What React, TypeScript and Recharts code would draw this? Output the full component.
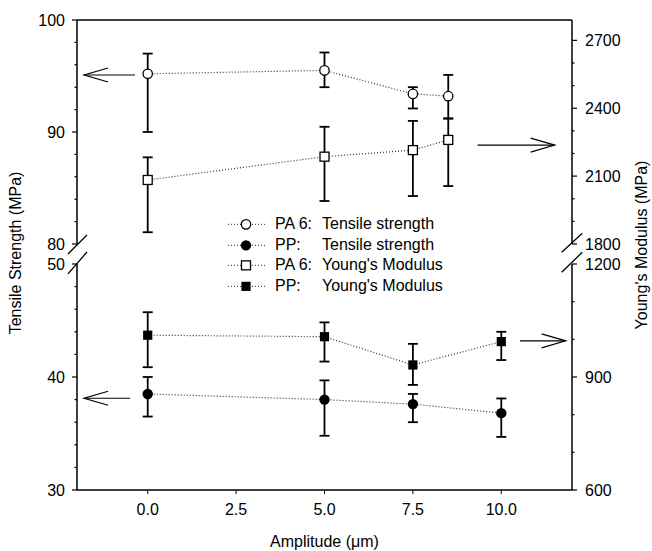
import React from "react";
import {
  ComposedChart,
  ErrorBar,
  Label,
  Legend,
  Line,
  ReferenceLine,
  XAxis,
  YAxis,
} from "recharts";

const FONT = '"Liberation Sans", Arial, Helvetica, sans-serif';

// amplitude (µm)
const pa6Amp = [0, 5, 7.5, 8.5];
const ppAmp = [0, 5, 7.5, 10];
const ampTicks = [0, 2.5, 5, 7.5, 10];

// PA 6 tensile strength (MPa): mean, lower and upper end of the error bar
const pa6Tensile = [95.2, 95.5, 93.4, 93.2];
const pa6TensileLow = [90.0, 94.0, 92.1, 91.2];
const pa6TensileHigh = [97.0, 97.1, 94.0, 95.1];

// PA 6 Young's modulus (MPa)
const pa6Modulus = [2083, 2186, 2215, 2260];
const pa6ModulusLow = [1852, 1990, 2012, 2056];
const pa6ModulusHigh = [2183, 2318, 2344, 2355];

// PP tensile strength (MPa)
const ppTensile = [38.5, 38.0, 37.6, 36.8];
const ppTensileLow = [36.5, 34.8, 36.0, 34.7];
const ppTensileHigh = [40.0, 39.7, 38.5, 38.1];

// PP Young's modulus (MPa)
const ppModulus = [1011, 1007, 932, 994];
const ppModulusLow = [926, 941, 879, 945];
const ppModulusHigh = [1072, 1045, 988, 1020];

// axis ticks (all) and labelled ticks
const leftUpperTicks = [80, 82, 84, 86, 88, 90, 92, 94, 96, 98, 100];
const leftUpperLabels = [80, 90, 100];
const leftLowerTicks = [30, 32, 34, 36, 38, 40, 42, 44, 46, 48, 50];
const leftLowerLabels = [30, 40, 50];
const rightUpperTicks = [1800, 1900, 2000, 2100, 2200, 2300, 2400, 2500, 2600, 2700];
const rightUpperLabels = [1800, 2100, 2400, 2700];
const rightLowerTicks = [600, 700, 800, 900, 1000, 1100, 1200];
const rightLowerLabels = [600, 900, 1200];

const legendKinds = ["openCircle", "filledCircle", "openSquare", "filledSquare"];
const legendMaterial = ["PA 6:", "PP:", "PA 6:", "PP:"];
const legendProperty = [
  "Tensile strength",
  "Tensile strength",
  "Young's Modulus",
  "Young's Modulus",
];

const makeRows = (xs: number[], mean: number[], low: number[], high: number[]) =>
  xs.map((x, i) => ({
    x,
    y: mean[i],
    err: [mean[i] - low[i], high[i] - mean[i]],
  }));

const pa6TensileRows = makeRows(pa6Amp, pa6Tensile, pa6TensileLow, pa6TensileHigh);
const pa6ModulusRows = makeRows(pa6Amp, pa6Modulus, pa6ModulusLow, pa6ModulusHigh);
const ppTensileRows = makeRows(ppAmp, ppTensile, ppTensileLow, ppTensileHigh);
const ppModulusRows = makeRows(ppAmp, ppModulus, ppModulusLow, ppModulusHigh);

const TICK_SIZE = 5;
const LEFT_GAP = 7;
const RIGHT_GAP = 8;

const Marker = ({ cx, cy, kind }: { cx: number; cy: number; kind: string }) => {
  if (kind === "openCircle")
    return <circle cx={cx} cy={cy} r={4.7} fill="#fff" stroke="#000" strokeWidth={1.3} />;
  if (kind === "filledCircle") return <circle cx={cx} cy={cy} r={5.2} fill="#000" />;
  if (kind === "openSquare")
    return (
      <rect x={cx - 4.5} y={cy - 4.5} width={9} height={9} fill="#fff" stroke="#000" strokeWidth={1.3} />
    );
  return <rect x={cx - 4.6} y={cy - 4.6} width={9.2} height={9.2} fill="#000" />;
};

const YTick = (props: any) => {
  const { x, y, payload, side, labels } = props;
  const major = labels.includes(payload.value);
  const left = side === "left";
  const axisX = left ? x + TICK_SIZE + LEFT_GAP : x - TICK_SIZE - RIGHT_GAP;
  const len = major ? TICK_SIZE : 2.5;
  return (
    <g>
      <line
        x1={axisX}
        x2={axisX + (left ? -len : len)}
        y1={y}
        y2={y}
        stroke="#000"
        strokeWidth={1.2}
      />
      {major && (
        <text x={x} y={y} dy="0.355em" textAnchor={left ? "end" : "start"} fontSize={16} fill="#000">
          {payload.value}
        </text>
      )}
    </g>
  );
};

const Arrow = (p: any) => {
  const { x1, y1, x2, y2 } = p;
  const dir = x2 > x1 ? 1 : -1;
  return (
    <g>
      <line x1={x1} y1={y1} x2={x2} y2={y2} stroke="#000" strokeWidth={1.2} />
      <polyline
        points={`${x2 - dir * 24},${y2 - 7} ${x2},${y2} ${x2 - dir * 24},${y2 + 7}`}
        fill="none"
        stroke="#000"
        strokeWidth={1.2}
      />
    </g>
  );
};

const dotFor = (kind: string) => (p: any) =>
  <Marker key={`${kind}-${p.index}`} cx={p.cx} cy={p.cy} kind={kind} />;

const LegendBox = () => (
  <div style={{ fontFamily: FONT, fontSize: 16, color: "#000" }}>
    {legendKinds.map((k, i) => (
      <div key={k} style={{ position: "relative", height: 20.7, lineHeight: "20.7px", whiteSpace: "nowrap" }}>
        <svg width={44} height={21} style={{ position: "absolute", left: 0, top: 0 }}>
          <line x1={3} x2={40} y1={10.35} y2={10.35} stroke="#333" strokeDasharray="1 2" />
          <Marker cx={21} cy={10.35} kind={k} />
        </svg>
        <span style={{ position: "absolute", left: 50, top: 0 }}>{legendMaterial[i]}</span>
        <span style={{ position: "absolute", left: 97, top: 0 }}>{legendProperty[i]}</span>
      </div>
    ))}
  </div>
);

const lineStyle = { stroke: "#333", strokeWidth: 1.2, strokeDasharray: "1 2" };
const errStyle = { stroke: "#000", strokeWidth: 1.8 };
const axisLine = { stroke: "#000", strokeWidth: 1.5 };

export default function App() {
  return (
    <div
      style={{
        position: "absolute",
        left: 0,
        top: 0,
        width: 652,
        height: 551,
        background: "#fff",
        overflow: "hidden",
        fontFamily: FONT,
        fontSize: 16,
      }}
    >
      {/* upper panel: PA 6 */}
      <div style={{ position: "absolute", left: 0, top: 0 }}>
        <ComposedChart width={652} height={551} margin={{ top: 20, right: 0, bottom: 307, left: 0 }}>
          <XAxis type="number" dataKey="x" domain={[-2, 12]} hide />
          <YAxis
            yAxisId="l"
            orientation="left"
            width={77}
            domain={[80, 100]}
            ticks={leftUpperTicks}
            interval={0}
            tickSize={TICK_SIZE}
            tickMargin={LEFT_GAP}
            tickLine={false}
            axisLine={axisLine}
            tick={(p: any) => <YTick {...p} side="left" labels={leftUpperLabels} />}
          />
          <YAxis
            yAxisId="r"
            orientation="right"
            width={80}
            domain={[1800, 2790]}
            ticks={rightUpperTicks}
            interval={0}
            tickSize={TICK_SIZE}
            tickMargin={RIGHT_GAP}
            tickLine={false}
            axisLine={axisLine}
            tick={(p: any) => <YTick {...p} side="right" labels={rightUpperLabels} />}
          />
          <ReferenceLine yAxisId="l" y={100} stroke="#000" strokeWidth={1.5} />
          <Line
            yAxisId="l"
            data={pa6TensileRows}
            dataKey="y"
            type="linear"
            {...lineStyle}
            dot={dotFor("openCircle")}
            activeDot={false}
            isAnimationActive={false}
          >
            <ErrorBar dataKey="err" direction="y" width={5} {...errStyle} isAnimationActive={false} />
          </Line>
          <Line
            yAxisId="r"
            data={pa6ModulusRows}
            dataKey="y"
            type="linear"
            {...lineStyle}
            dot={dotFor("openSquare")}
            activeDot={false}
            isAnimationActive={false}
          >
            <ErrorBar dataKey="err" direction="y" width={5} {...errStyle} isAnimationActive={false} />
          </Line>
          <ReferenceLine
            yAxisId="l"
            segment={[{ x: -0.36, y: 95.09 }, { x: -1.8, y: 95.09 }]}
            ifOverflow="visible"
            shape={Arrow}
          />
          <ReferenceLine
            yAxisId="r"
            segment={[{ x: 9.33, y: 2237 }, { x: 11.51, y: 2237 }]}
            ifOverflow="visible"
            shape={Arrow}
          />
          <ReferenceLine
            yAxisId="l"
            segment={[{ x: -2.255, y: 79.11 }, { x: -1.717, y: 80.8 }]}
            ifOverflow="visible"
            stroke="#000"
            strokeWidth={1.3}
          />
          <ReferenceLine
            yAxisId="l"
            segment={[{ x: 11.709, y: 79.26 }, { x: 12.291, y: 80.96 }]}
            ifOverflow="visible"
            stroke="#000"
            strokeWidth={1.3}
          />
        </ComposedChart>
      </div>

      {/* lower panel: PP */}
      <div style={{ position: "absolute", left: 0, top: 0 }}>
        <ComposedChart width={652} height={551} margin={{ top: 264, right: 0, bottom: 0, left: 0 }}>
          <XAxis
            type="number"
            dataKey="x"
            domain={[-2, 12]}
            ticks={ampTicks}
            interval={0}
            height={61}
            tickSize={4}
            tickMargin={10}
            axisLine={axisLine}
            tickLine={{ stroke: "#000" }}
            tick={{ fill: "#000", fontSize: 16 }}
            tickFormatter={(v: number) => v.toFixed(1)}
          >
            <Label value="Amplitude (μm)" position="insideBottom" offset={4} fill="#000" fontSize={16} />
          </XAxis>
          <YAxis
            yAxisId="l"
            orientation="left"
            width={77}
            domain={[30, 50]}
            ticks={leftLowerTicks}
            interval={0}
            tickSize={TICK_SIZE}
            tickMargin={LEFT_GAP}
            tickLine={false}
            axisLine={axisLine}
            tick={(p: any) => <YTick {...p} side="left" labels={leftLowerLabels} />}
          />
          <YAxis
            yAxisId="r"
            orientation="right"
            width={80}
            domain={[600, 1200]}
            ticks={rightLowerTicks}
            interval={0}
            tickSize={TICK_SIZE}
            tickMargin={RIGHT_GAP}
            tickLine={false}
            axisLine={axisLine}
            tick={(p: any) => <YTick {...p} side="right" labels={rightLowerLabels} />}
          />
          <Line
            yAxisId="l"
            data={ppTensileRows}
            dataKey="y"
            type="linear"
            {...lineStyle}
            dot={dotFor("filledCircle")}
            activeDot={false}
            isAnimationActive={false}
          >
            <ErrorBar dataKey="err" direction="y" width={5} {...errStyle} isAnimationActive={false} />
          </Line>
          <Line
            yAxisId="r"
            data={ppModulusRows}
            dataKey="y"
            type="linear"
            {...lineStyle}
            dot={dotFor("filledSquare")}
            activeDot={false}
            isAnimationActive={false}
          >
            <ErrorBar dataKey="err" direction="y" width={5} {...errStyle} isAnimationActive={false} />
          </Line>
          <ReferenceLine
            yAxisId="l"
            segment={[{ x: -0.5, y: 38.12 }, { x: -1.8, y: 38.12 }]}
            ifOverflow="visible"
            shape={Arrow}
          />
          <ReferenceLine
            yAxisId="r"
            segment={[{ x: 10.53, y: 996 }, { x: 11.82, y: 996 }]}
            ifOverflow="visible"
            shape={Arrow}
          />
          <ReferenceLine
            yAxisId="l"
            segment={[{ x: -2.255, y: 49.12 }, { x: -1.717, y: 51.06 }]}
            ifOverflow="visible"
            stroke="#000"
            strokeWidth={1.3}
          />
          <ReferenceLine
            yAxisId="l"
            segment={[{ x: 11.709, y: 49.27 }, { x: 12.291, y: 51.04 }]}
            ifOverflow="visible"
            stroke="#000"
            strokeWidth={1.3}
          />
          <text x={21} y={253} transform="rotate(-90 21 253)" textAnchor="middle" fontSize={16} fill="#000">
            Tensile Strength (MPa)
          </text>
          <text x={647} y={245} transform="rotate(-90 647 245)" textAnchor="middle" fontSize={16} fill="#000">
            Young's Modulus (MPa)
          </text>
          <Legend
            layout="horizontal"
            verticalAlign="middle"
            align="center"
            wrapperStyle={{ left: 225, top: 214, width: 240, height: 84 }}
            content={() => <LegendBox />}
          />
        </ComposedChart>
      </div>
    </div>
  );
}
